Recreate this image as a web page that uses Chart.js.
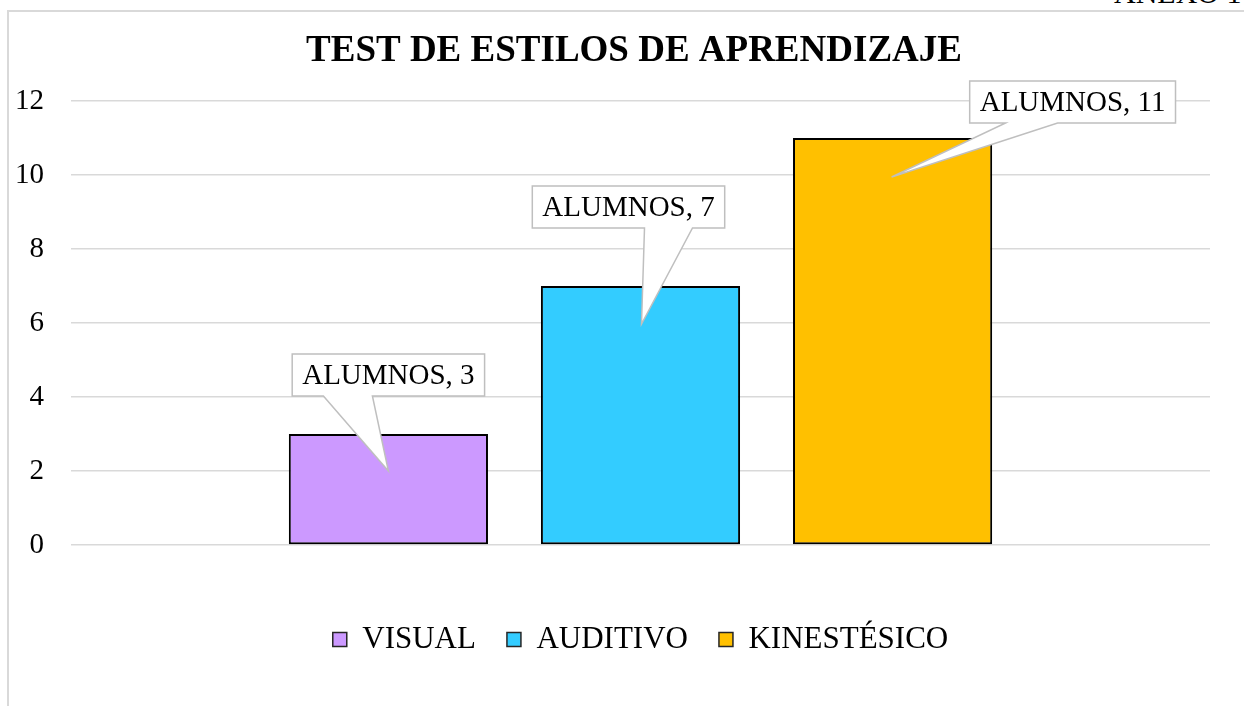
<!DOCTYPE html>
<html>
<head>
<meta charset="utf-8">
<script src="https://cdn.jsdelivr.net/npm/chart.js@4/dist/chart.umd.min.js"></script>
<style>
  html, body { margin: 0; padding: 0; background: #ffffff; overflow: hidden; }
  #wrap { position: absolute; left: 0; top: 0; width: 1244px; height: 706px; }
  #frame { position: absolute; left: 7px; top: 10px; width: 1300px; height: 760px;
           border-left: 2px solid #d9d9d9; border-top: 2px solid #d9d9d9; }
  #anexo { position: absolute; left: 1114px; top: -24px; font: 30px "Liberation Serif", serif;
           color: #000; white-space: nowrap; }
  canvas { position: absolute; left: 0; top: 0; }
</style>
</head>
<body>
<div id="wrap">
  <div id="anexo">ANEXO 1</div>
  <div id="frame"></div>
  <canvas id="c" width="1244" height="706"></canvas>
</div>
<script>
const categories = ["ALUMNOS"];
const seriesNames = ["VISUAL", "AUDITIVO", "KINESTÉSICO"];
const visualValues = [3];
const auditivoValues = [7];
const kinestesicoValues = [11];
const yTicks = [0, 2, 4, 6, 8, 10, 12];
const titleText = "TEST DE ESTILOS DE APRENDIZAJE";

const colors = ["#CC99FF", "#33CCFF", "#FFC000"];
// callout placement (px, relative to bar top/center)
const callouts = [
  { dx: 0,    bottom: 38, baseL: -65, baseR: -16, tipDx: 0,   tipDy: 37 },
  { dx: -12,  bottom: 58, baseL: 16,  baseR: 64,  tipDx: 1,   tipDy: 38 },
  { dx: 180,  bottom: 15, baseL: -67, baseR: -15, tipDx: -1,  tipDy: 39 }
];

const titlePlugin = {
  id: 'customTitle',
  afterDraw(chart) {
    const ctx = chart.ctx;
    ctx.save();
    ctx.font = 'bold 37px "Liberation Serif", "Times New Roman", serif';
    ctx.fillStyle = '#000000';
    ctx.textAlign = 'center';
    ctx.textBaseline = 'middle';
    ctx.fillText(titleText, 634, 51);
    ctx.restore();
  }
};

const calloutPlugin = {
  id: 'callouts',
  afterDatasetsDraw(chart) {
    const ctx = chart.ctx;
    ctx.save();
    ctx.font = '29px "Liberation Serif", "Times New Roman", serif';
    chart.data.datasets.forEach((ds, i) => {
      const meta = chart.getDatasetMeta(i);
      const bar = meta.data[0];
      const c = callouts[i];
      const label = chart.data.labels[0] + ", " + ds.data[0];
      const tw = ctx.measureText(label).width;
      const w = tw + 20, h = 42;
      const cx = bar.x + c.dx;
      const by = bar.y - c.bottom;
      const ty = by - h;
      const lx = cx - w / 2, rx = cx + w / 2;
      const tipX = bar.x + c.tipDx, tipY = bar.y + c.tipDy;
      ctx.beginPath();
      ctx.moveTo(lx, ty);
      ctx.lineTo(rx, ty);
      ctx.lineTo(rx, by);
      ctx.lineTo(cx + c.baseR, by);
      ctx.lineTo(tipX, tipY);
      ctx.lineTo(cx + c.baseL, by);
      ctx.lineTo(lx, by);
      ctx.closePath();
      ctx.fillStyle = '#ffffff';
      ctx.fill();
      ctx.lineWidth = 1.5;
      ctx.strokeStyle = '#bfbfbf';
      ctx.lineJoin = 'miter';
      ctx.stroke();
      ctx.fillStyle = '#000000';
      ctx.textAlign = 'center';
      ctx.textBaseline = 'middle';
      ctx.fillText(label, cx, ty + h / 2 + 1);
    });
    ctx.restore();
  }
};

const data = {
  labels: categories,
  datasets: [
    { label: seriesNames[0], data: visualValues, backgroundColor: colors[0] },
    { label: seriesNames[1], data: auditivoValues, backgroundColor: colors[1] },
    { label: seriesNames[2], data: kinestesicoValues, backgroundColor: colors[2] }
  ].map(d => Object.assign(d, { borderColor: '#000000', borderWidth: 2, borderSkipped: false,
                                 categoryPercentage: 0.664, barPercentage: 0.79 }))
};

new Chart(document.getElementById('c'), {
  type: 'bar',
  data: data,
  options: {
    responsive: false,
    animation: false,
    devicePixelRatio: 1,
    layout: { padding: { left: 0, right: 34, top: 101, bottom: 41 } },
    plugins: {
      title: { display: false },
      legend: {
        position: 'bottom',
        fullSize: false,
        labels: {
          color: '#000000',
          font: { family: '"Liberation Serif", "Times New Roman", serif', size: 31 },
          boxWidth: 14, boxHeight: 14, padding: 31,
          generateLabels(chart) {
            return chart.data.datasets.map((d, i) => ({
              text: d.label, fillStyle: d.backgroundColor, strokeStyle: '#262626',
              lineWidth: 1.5, hidden: false, datasetIndex: i, fontColor: '#000000'
            }));
          }
        }
      },
      tooltip: { enabled: false }
    },
    scales: {
      x: {
        display: true,
        ticks: { display: false },
        grid: { display: false },
        border: { display: false },
        afterFit(scale) { scale.height = 48; }
      },
      y: {
        min: 0, max: 12,
        afterBuildTicks(scale) { scale.ticks = yTicks.map(v => ({ value: v })); },
        afterFit(scale) { scale.width = 71; },
        border: { display: false },
        grid: { color: '#d9d9d9', lineWidth: 1.5, drawTicks: false },
        ticks: {
          color: '#000000', padding: 27,
          font: { family: '"Liberation Serif", "Times New Roman", serif', size: 29 }
        }
      }
    }
  },
  plugins: [calloutPlugin, titlePlugin]
});
</script>
</body>
</html>
